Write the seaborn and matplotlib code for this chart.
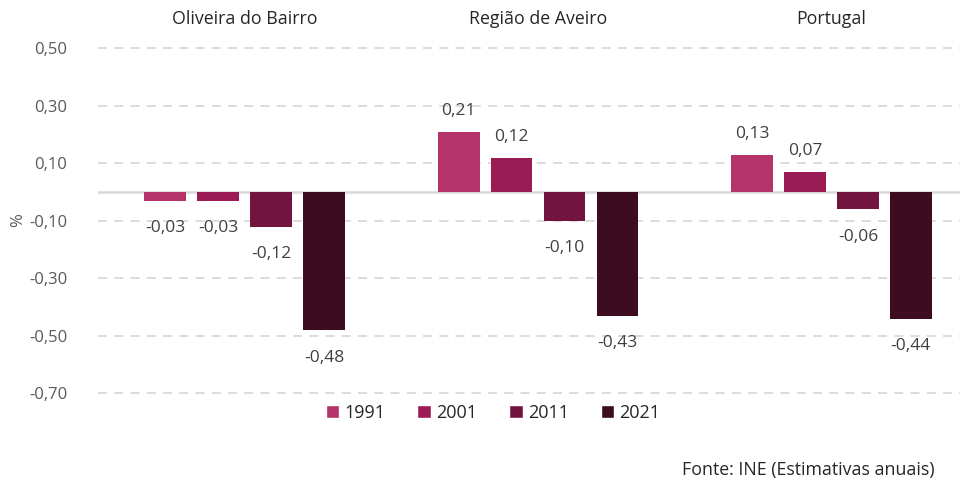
import pandas as pd
import matplotlib.pyplot as plt
import seaborn as sns
from matplotlib.patches import Patch

# data
regions = ["Oliveira do Bairro", "Região de Aveiro", "Portugal"]
years = ["1991", "2001", "2011", "2021"]
v1991 = [-0.03, 0.21, 0.13]
v2001 = [-0.03, 0.12, 0.07]
v2011 = [-0.12, -0.10, -0.06]
v2021 = [-0.48, -0.43, -0.44]
yticks = [0.5, 0.3, 0.1, -0.1, -0.3, -0.5, -0.7]
colors = ["#B3336A", "#9B1B55", "#731440", "#3D0C20"]

rows = []
for year, vals in zip(years, [v1991, v2001, v2011, v2021]):
    for reg, v in zip(regions, vals):
        rows.append({"region": reg, "year": year, "value": v})
df = pd.DataFrame(rows)

sns.set_style("white")
plt.rcParams["font.family"] = ["Open Sans", "DejaVu Sans"]

fig = plt.figure(figsize=(9.67, 4.83), dpi=100)
ax = fig.add_axes([0.1013, 0.156, 0.8914, 0.7735])

sns.barplot(data=df, x="region", y="value", hue="year", order=regions,
            hue_order=years, palette=colors, saturation=1, width=0.722, gap=0.21,
            errorbar=None, legend=False, ax=ax, edgecolor="none")

# labels
for cont in ax.containers:
    for bar in cont:
        h = bar.get_height()
        x = bar.get_x() + bar.get_width() / 2
        txt = f"{h:.2f}".replace(".", ",")
        if h >= 0:
            ax.annotate(txt, (x, h), xytext=(0, 9), textcoords="offset points",
                        ha="center", va="bottom", fontsize=12.5, color="#404040")
        else:
            ax.annotate(txt, (x, h), xytext=(0, -14), textcoords="offset points",
                        ha="center", va="top", fontsize=12.5, color="#404040")

ax.set_ylim(-0.75, 0.55)
ax.set_xlim(-0.5, 2.438)
ax.set_yticks(yticks)
ax.set_yticklabels([f"{t:.2f}".replace(".", ",") for t in yticks])
for t in yticks:
    ax.axhline(t, color="#D9D9D9", lw=1.3, ls=(0, (5, 4)), zorder=0)
ax.axhline(0, color="#D9D9D9", lw=1.8, zorder=0)

ax.xaxis.tick_top()
ax.tick_params(axis="x", length=0, labelsize=12.8, labelcolor="#262626", pad=4)
ax.tick_params(axis="y", length=0, labelsize=12, labelcolor="#595959", pad=22)
ax.set_xlabel("")
ax.set_ylabel("")
sns.despine(ax=ax, left=True, bottom=True, top=True, right=True)

fig.text(0.019, 0.545, "%", rotation=90, ha="center", va="center",
         fontsize=12, color="#595959")

handles = [Patch(facecolor=c, label=y) for c, y in zip(colors, years)]
fig.legend(handles=handles, loc="center", bbox_to_anchor=(0.51, 0.145), ncol=4,
           frameon=False, fontsize=13, handlelength=0.75, handleheight=0.75,
           handletextpad=0.3, columnspacing=1.75, labelcolor="#262626")

fig.text(0.967, 0.027, "Fonte: INE (Estimativas anuais)", ha="right", va="center",
         fontsize=12.8, color="#262626")

plt.savefig("out.png", dpi=100)
